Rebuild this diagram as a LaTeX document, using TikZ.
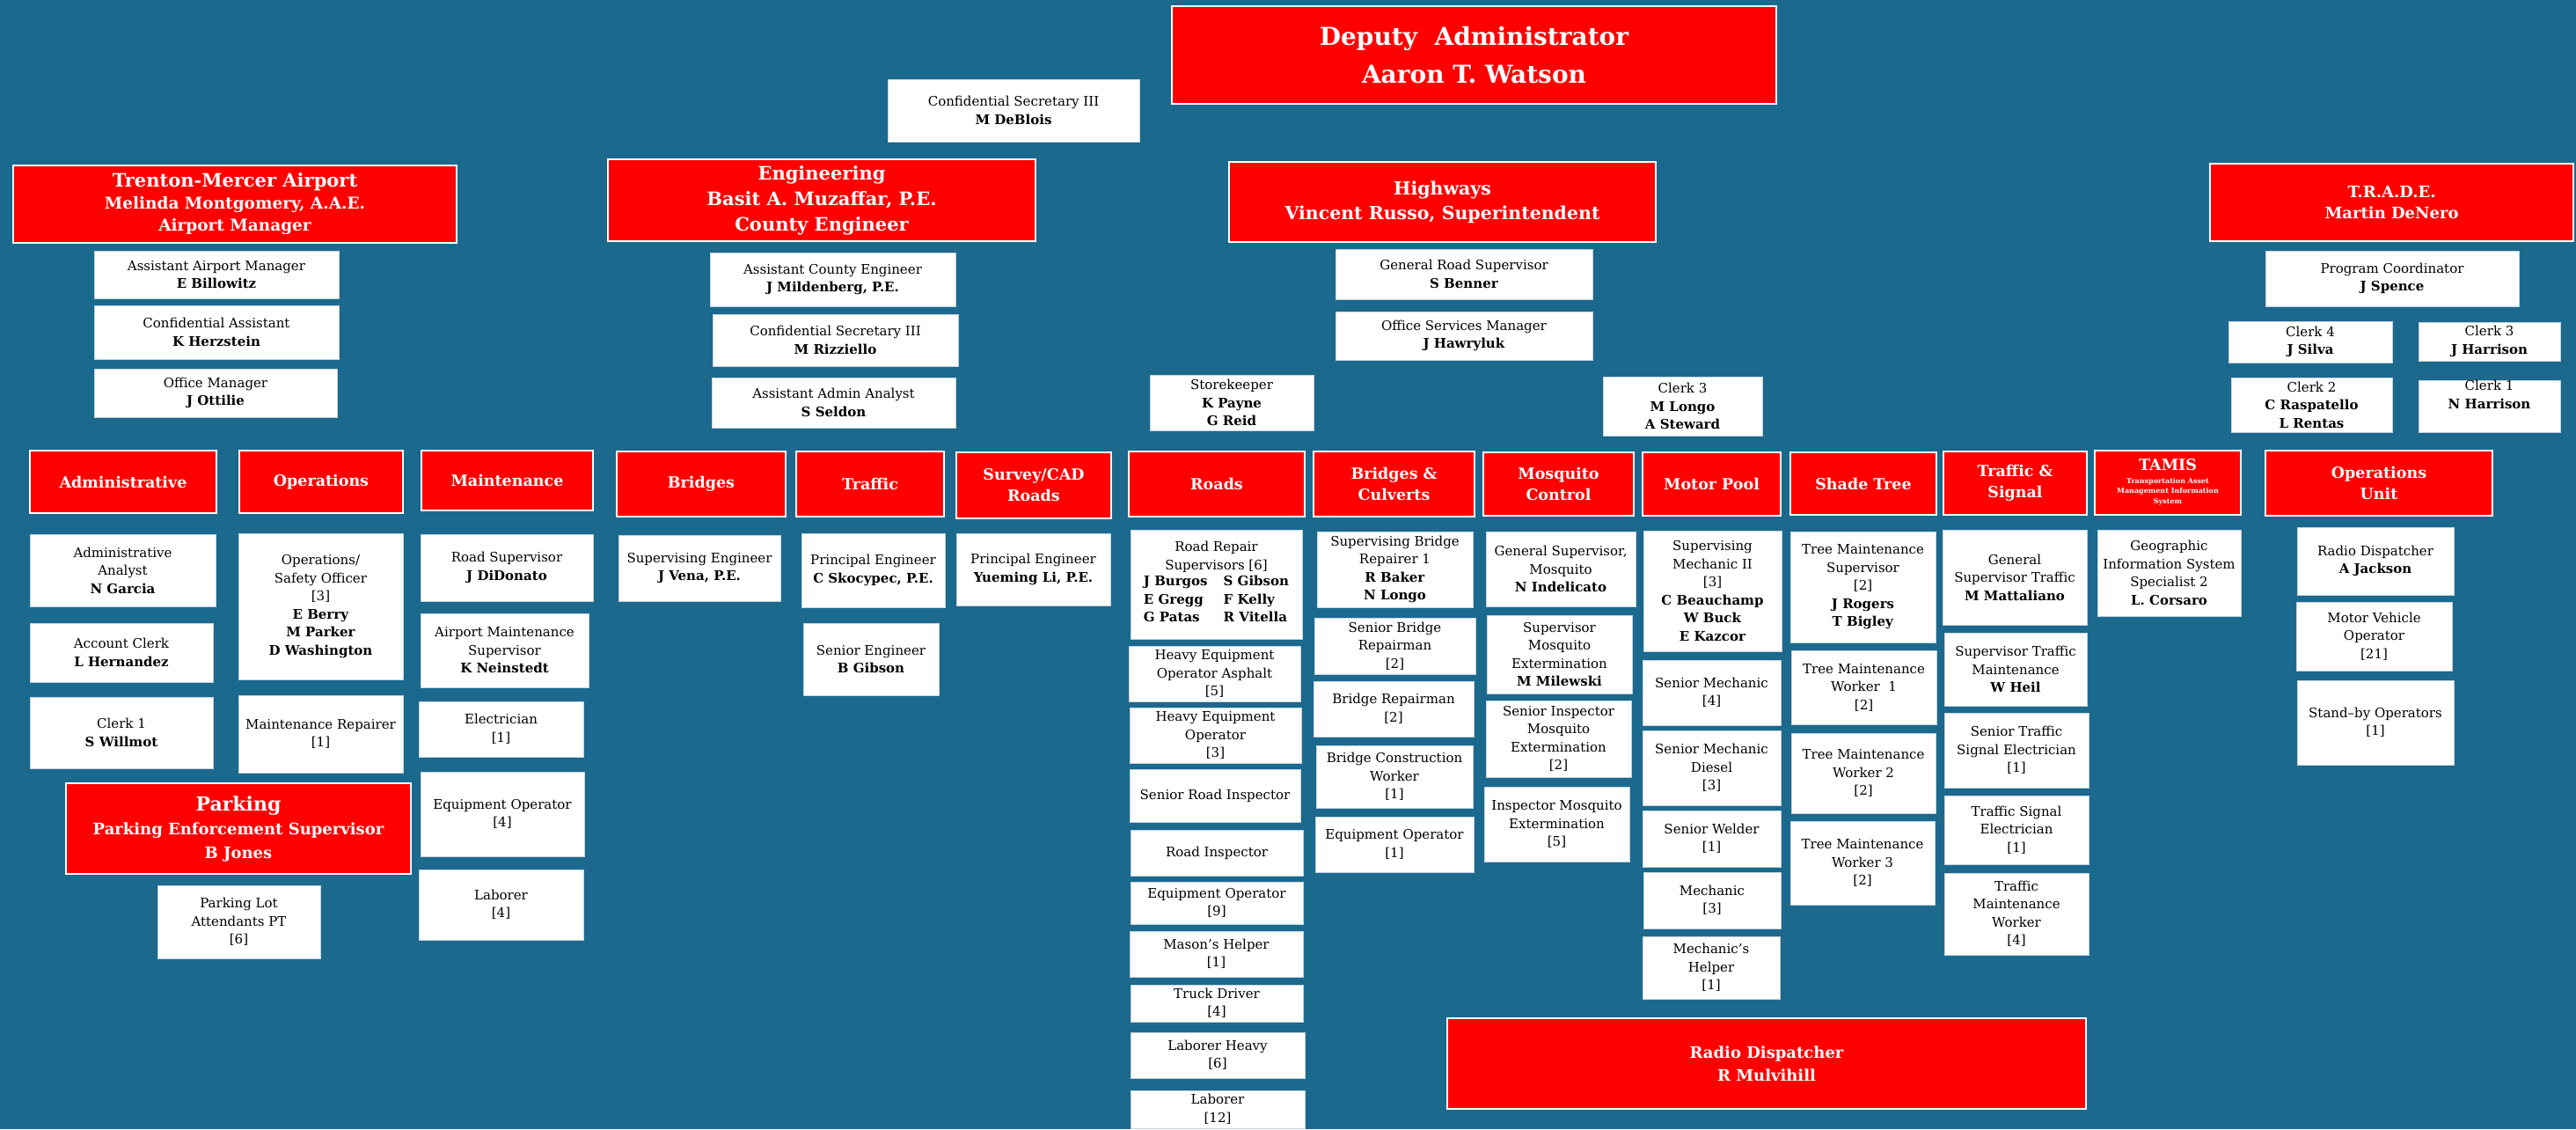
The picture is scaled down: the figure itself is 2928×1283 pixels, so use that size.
\documentclass[tikz,border=0pt]{standalone}
\usepackage{fontspec}
\setmainfont{DejaVu Serif}
\usepackage{xcolor}

\definecolor{bgblue}{RGB}{28,105,142}
\definecolor{hdred}{RGB}{255,0,0}
\definecolor{edgegray}{RGB}{196,210,222}

\begin{document}
\begin{tikzpicture}[x=1pt, y=-1pt,
    sz/.style 2 args={minimum width=#1pt, minimum height=#2pt},
    redbox/.style={draw=white, line width=1.6pt, fill=hdred, text=white, align=center, inner sep=0pt},
    whitebox/.style={draw=edgegray, line width=0.8pt, fill=white, text=black, align=center, inner sep=0pt, font=\fontsize{15}{20.5}\selectfont},
    colhead/.style={redbox, font=\fontsize{17.5}{24}\selectfont\bfseries}]

    \fill[bgblue] (0,0) rectangle (2928,1283);
    \useasboundingbox (0,0) rectangle (2928,1283);

    % top
    \node[redbox, sz={687}{111}, font=\fontsize{28}{43}\selectfont\bfseries] (deputy) at (1675.5,62.5) {Deputy\ \ Administrator\\Aaron T. Watson};
    \node[whitebox, sz={286}{71}] (confsec) at (1152,125.5) {Confidential Secretary III\\\textbf{M DeBlois}};

    % divisions
    \node[redbox, sz={504}{88}, font=\fontsize{18.5}{25}\selectfont\bfseries] (airport) at (267,232) {{\fontsize{21}{25}\selectfont Trenton-Mercer Airport}\\Melinda Montgomery, A.A.E.\\Airport Manager};
    \node[redbox, sz={486}{93}, font=\fontsize{21}{29}\selectfont\bfseries] (engineering) at (934,227.5) {Engineering\\Basit A. Muzaffar, P.E.\\County Engineer};
    \node[redbox, sz={485}{91}, font=\fontsize{20.5}{28}\selectfont\bfseries] (highways) at (1639.5,229.5) {Highways\\Vincent Russo, Superintendent};
    \node[redbox, sz={413}{88}, font=\fontsize{18}{24}\selectfont\bfseries] (trade) at (2718.5,230) {T.R.A.D.E.\\Martin DeNero};

    % airport staff
    \node[whitebox, sz={278}{54}] (asstapm) at (246,312) {Assistant Airport Manager\\\textbf{E Billowitz}};
    \node[whitebox, sz={278}{61}] (confasst) at (246,377.5) {Confidential Assistant\\\textbf{K Herzstein}};
    \node[whitebox, sz={276}{55}] (officemgr) at (245,446.5) {Office Manager\\\textbf{J Ottilie}};

    % engineering staff
    \node[whitebox, sz={279}{61}] (asstce) at (946.5,317.5) {Assistant County Engineer\\\textbf{J Mildenberg, P.E.}};
    \node[whitebox, sz={279}{59}] (confsecm) at (949.5,386.5) {Confidential Secretary III\\\textbf{M Rizziello}};
    \node[whitebox, sz={277}{57}] (adminanalyst) at (947.5,457.5) {Assistant Admin Analyst\\\textbf{S Seldon}};

    % highways staff
    \node[whitebox, sz={292}{57}] (genroad) at (1664,311.5) {General Road Supervisor\\\textbf{S Benner}};
    \node[whitebox, sz={292}{55}] (officeserv) at (1664,381.5) {Office Services Manager\\\textbf{J Hawryluk}};
    \node[whitebox, sz={186}{63}] (storekeeper) at (1400,457.5) {Storekeeper\\\textbf{K Payne}\\\textbf{G Reid}};
    \node[whitebox, sz={181}{67}] (clerkhw) at (1912.5,461.5) {Clerk 3\\\textbf{M Longo}\\\textbf{A Steward}};

    % trade staff
    \node[whitebox, sz={288}{63}] (progcoord) at (2719,316.5) {Program Coordinator\\\textbf{J Spence}};
    \node[whitebox, sz={186}{47}] (clerkfour) at (2626,388.5) {Clerk 4\\\textbf{J Silva}};
    \node[whitebox, sz={161}{44}] (clerkthree) at (2829.5,388) {Clerk 3\\\textbf{J Harrison}};
    \node[whitebox, sz={183}{62}] (clerktwo) at (2627.5,460) {Clerk 2\\\textbf{C Raspatello}\\\textbf{L Rentas}};
    \node[whitebox, sz={161}{59}] (clerkone) at (2829.5,461.5) {Clerk 1\\\textbf{N Harrison}\\\strut};

    % section headers
    \node[colhead, sz={212}{71}] (admin) at (140,547.5) {Administrative};
    \node[colhead, sz={186}{71}] (operations) at (365,547.5) {Operations};
    \node[colhead, sz={195}{68}] (maintenance) at (576.5,546) {Maintenance};
    \node[colhead, sz={192}{74}] (bridges) at (797,550) {Bridges};
    \node[colhead, sz={168}{74}] (traffic) at (989,550) {Traffic};
    \node[colhead, sz={176}{75}] (survey) at (1175,551.5) {Survey/CAD\\Roads};
    \node[colhead, sz={200}{74}] (roads) at (1383,550) {Roads};
    \node[colhead, sz={183}{74}] (bridgecul) at (1584.5,550) {Bridges \&\\Culverts};
    \node[colhead, sz={171}{72}] (mosquito) at (1771.5,550) {Mosquito\\Control};
    \node[colhead, sz={157}{72}] (motorpool) at (1945.5,550) {Motor Pool};
    \node[colhead, sz={166}{71}] (shadetree) at (2118,549.5) {Shade Tree};
    \node[colhead, sz={163}{72}] (trafsig) at (2290.5,549) {Traffic \&\\Signal};
    \node[colhead, sz={166}{73}] (tamis) at (2464,548.5) {TAMIS\\[-9pt]{\fontsize{8}{11.5}\selectfont\begin{tabular}[t]{@{}c@{}}Transportation Asset\\Management Information\\System\end{tabular}}};
    \node[colhead, sz={258}{74}] (opsunit) at (2704,549) {Operations\\Unit};

    % administrative
    \node[whitebox, sz={211}{82}] (adminan) at (139.5,648) {Administrative\\Analyst\\\textbf{N Garcia}};
    \node[whitebox, sz={208}{67}] (acctclerk) at (138,741.5) {Account Clerk\\\textbf{L Hernandez}};
    \node[whitebox, sz={208}{81}] (clerkadm) at (138,832.5) {Clerk 1\\\textbf{S Willmot}};

    % operations
    \node[whitebox, sz={187}{166}] (opssafety) at (364.5,689) {Operations/\\Safety Officer\\{[3]}\\\textbf{E Berry}\\\textbf{M Parker}\\\textbf{D Washington}};
    \node[whitebox, sz={187}{88}] (maintrep) at (364.5,834) {Maintenance Repairer\\{[1]}};

    % maintenance
    \node[whitebox, sz={196}{76}] (roadsup) at (576,645) {Road Supervisor\\\textbf{J DiDonato}};
    \node[whitebox, sz={191}{84}] (apmaintsup) at (573.5,739) {Airport Maintenance\\Supervisor\\\textbf{K Neinstedt}};
    \node[whitebox, sz={187}{63}] (electrician) at (569.5,828.5) {Electrician\\{[1]}};
    \node[whitebox, sz={186}{96}] (equipop) at (571,925) {Equipment Operator\\{[4]}};
    \node[whitebox, sz={187}{80}] (laborer) at (569.5,1028) {Laborer\\{[4]}};

    % parking
    \node[redbox, sz={392}{103}, font=\fontsize{18}{27}\selectfont\bfseries] (parking) at (271,941.5) {{\fontsize{22}{27}\selectfont Parking}\\Parking Enforcement Supervisor\\B Jones};
    \node[whitebox, sz={185}{83}] (parkinglot) at (271.5,1047.5) {Parking Lot\\Attendants PT\\{[6]}};

    % engineering sections
    \node[whitebox, sz={184}{75}] (supeng) at (795,645.5) {Supervising Engineer\\\textbf{J Vena, P.E.}};
    \node[whitebox, sz={163}{84}] (princengt) at (992.5,648) {Principal Engineer\\\textbf{C Skocypec, P.E.}};
    \node[whitebox, sz={154}{82}] (senioreng) at (990,749) {Senior Engineer\\\textbf{B Gibson}};
    \node[whitebox, sz={175}{82}] (princengs) at (1174.5,647) {Principal Engineer\\\textbf{Yueming Li, P.E.}};

    % roads
    \node[whitebox, sz={195}{124}] (roadrepair) at (1382.5,664) {Road Repair\\Supervisors [6]\\\begin{tabular}{@{}l@{\hspace{18pt}}l@{}}\textbf{J Burgos} & \textbf{S Gibson}\\\textbf{E Gregg} & \textbf{F Kelly}\\\textbf{G Patas} & \textbf{R Vitella}\end{tabular}};
    \node[whitebox, sz={195}{63}] (heavyasph) at (1380.5,765.5) {Heavy Equipment\\Operator Asphalt\\{[5]}};
    \node[whitebox, sz={195}{63}] (heavyop) at (1381.5,835.5) {Heavy Equipment\\Operator\\{[3]}};
    \node[whitebox, sz={194}{60}] (srroadinsp) at (1381,904) {Senior Road Inspector};
    \node[whitebox, sz={196}{52}] (roadinsp) at (1383,969) {Road Inspector};
    \node[whitebox, sz={196}{48}] (equipopnine) at (1383,1026) {Equipment Operator\\{[9]}};
    \node[whitebox, sz={197}{52}] (masonhelper) at (1382.5,1084) {Mason’s Helper\\{[1]}};
    \node[whitebox, sz={196}{42}] (truckdriver) at (1383,1140) {Truck Driver\\{[4]}};
    \node[whitebox, sz={198}{52}] (laborerheavy) at (1384,1199) {Laborer Heavy\\{[6]}};
    \node[whitebox, sz={198}{43}] (laborertw) at (1384,1260.5) {Laborer\\{[12]}};

    % bridges & culverts
    \node[whitebox, sz={177}{86}] (supbridge) at (1585.5,647) {Supervising Bridge\\Repairer 1\\\textbf{R Baker}\\\textbf{N Longo}};
    \node[whitebox, sz={183}{64}] (srbridge) at (1585.5,734) {Senior Bridge\\Repairman\\{[2]}};
    \node[whitebox, sz={182}{63}] (bridgerep) at (1584,805.5) {Bridge Repairman\\{[2]}};
    \node[whitebox, sz={178}{71}] (bridgecons) at (1585,882.5) {Bridge Construction\\Worker\\{[1]}};
    \node[whitebox, sz={180}{63}] (equipopone) at (1585,959.5) {Equipment Operator\\{[1]}};

    % mosquito control
    \node[whitebox, sz={170}{85}] (gensupmos) at (1774,646.5) {General Supervisor,\\Mosquito\\\textbf{N Indelicato}};
    \node[whitebox, sz={165}{89}] (supmos) at (1772.5,743.5) {Supervisor\\Mosquito\\Extermination\\\textbf{M Milewski}};
    \node[whitebox, sz={165}{87}] (srinspmos) at (1771.5,839.5) {Senior Inspector\\Mosquito\\Extermination\\{[2]}};
    \node[whitebox, sz={165}{85}] (inspmos) at (1769.5,936.5) {Inspector Mosquito\\Extermination\\{[5]}};

    % motor pool
    \node[whitebox, sz={157}{137}] (supmech) at (1946.5,671.5) {Supervising\\Mechanic II\\{[3]}\\\textbf{C Beauchamp}\\\textbf{W Buck}\\\textbf{E Kazcor}};
    \node[whitebox, sz={157}{74}] (srmech) at (1945.5,787) {Senior Mechanic\\{[4]}};
    \node[whitebox, sz={157}{85}] (srmechdiesel) at (1945.5,872.5) {Senior Mechanic\\Diesel\\{[3]}};
    \node[whitebox, sz={157}{64}] (srwelder) at (1945.5,953) {Senior Welder\\{[1]}};
    \node[whitebox, sz={156}{64}] (mechanic) at (1946,1023) {Mechanic\\{[3]}};
    \node[whitebox, sz={156}{71}] (mechhelper) at (1945,1099.5) {Mechanic’s\\Helper\\{[1]}};

    % shade tree
    \node[whitebox, sz={165}{126}] (treesup) at (2117.5,667) {Tree Maintenance\\Supervisor\\{[2]}\\\textbf{J Rogers}\\\textbf{T Bigley}};
    \node[whitebox, sz={165}{84}] (treewone) at (2118.5,781) {Tree Maintenance\\Worker\ \ 1\\{[2]}};
    \node[whitebox, sz={164}{91}] (treewtwo) at (2118,878.5) {Tree Maintenance\\Worker 2\\{[2]}};
    \node[whitebox, sz={164}{95}] (treewthree) at (2117,980.5) {Tree Maintenance\\Worker 3\\{[2]}};

    % traffic & signal
    \node[whitebox, sz={164}{108}] (gensuptraf) at (2290,656) {General\\Supervisor Traffic\\\textbf{M Mattaliano}};
    \node[whitebox, sz={162}{83}] (suptrafmaint) at (2291,760.5) {Supervisor Traffic\\Maintenance\\\textbf{W Heil}};
    \node[whitebox, sz={164}{85}] (srtrafelec) at (2292,852.5) {Senior Traffic\\Signal Electrician\\{[1]}};
    \node[whitebox, sz={164}{78}] (trafelec) at (2292,943) {Traffic Signal\\Electrician\\{[1]}};
    \node[whitebox, sz={164}{93}] (trafmaintw) at (2292,1038.5) {Traffic\\Maintenance\\Worker\\{[4]}};

    % tamis
    \node[whitebox, sz={163}{98}] (gis) at (2465.5,651) {Geographic\\Information System\\Specialist 2\\\textbf{L. Corsaro}};

    % operations unit
    \node[whitebox, sz={178}{77}] (radiojackson) at (2700,637.5) {Radio Dispatcher\\\textbf{A Jackson}};
    \node[whitebox, sz={177}{78}] (mvo) at (2698.5,723) {Motor Vehicle\\Operator\\{[21]}};
    \node[whitebox, sz={178}{96}] (standby) at (2700,821) {Stand–by Operators\\{[1]}};

    \node[redbox, sz={726}{103}, font=\fontsize{18}{26}\selectfont\bfseries] (radiomul) at (2008,1208.5) {Radio Dispatcher\\R Mulvihill};
\end{tikzpicture}
\end{document}
